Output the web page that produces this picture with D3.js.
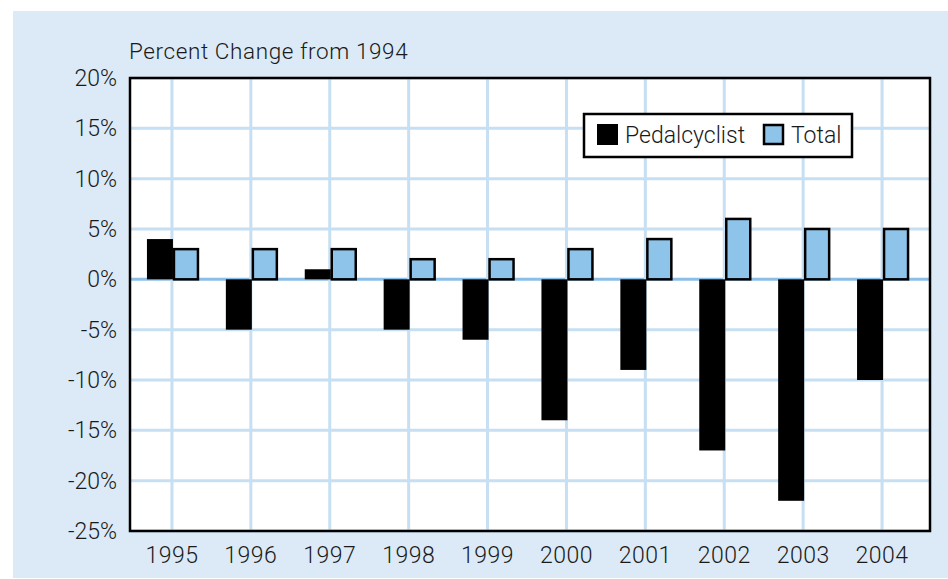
<!DOCTYPE html>
<html>
<head>
<meta charset="utf-8">
<script src="https://cdn.jsdelivr.net/npm/d3@7"></script>
<style>
  body { margin: 0; background: #fff; }
  text { font-family: Roboto, "Open Sans", sans-serif; font-weight: 300; fill: #1a1a1a; }
</style>
</head>
<body>
<div id="chart"></div>
<script>
// data
var years = ["1995", "1996", "1997", "1998", "1999", "2000", "2001", "2002", "2003", "2004"];
var pedalcyclist = [4, -5, 1, -5, -6, -14, -9, -17, -22, -10];
var total = [3, 3, 3, 2, 2, 3, 4, 6, 5, 5];
var yTicks = [20, 15, 10, 5, 0, -5, -10, -15, -20, -25];
var seriesNames = ["Pedalcyclist", "Total"];

var W = 948, H = 579;
var plot = {left: 130, top: 78, right: 930, bottom: 531};
var barWidth = 26;

var svg = d3.select("#chart").append("svg")
	.attr("width", W)
	.attr("height", H);

// light blue panel
svg.append("rect")
	.attr("x", 13).attr("y", 11)
	.attr("width", W - 13).attr("height", 567)
	.style("fill", "#dbeaf6");

svg.append("rect")
	.attr("x", plot.left).attr("y", plot.top)
	.attr("width", plot.right - plot.left).attr("height", plot.bottom - plot.top)
	.style("fill", "#fff");

var xScale = d3.scaleBand()
	.domain(years)
	.range([132.5, 921.5]);

var yScale = d3.scaleLinear()
	.domain([-25, 20])
	.range([plot.bottom, plot.top]);

// grid lines
svg.selectAll(".hgrid")
	.data(yTicks)
	.enter().append("line")
	.attr("class", "hgrid")
	.attr("x1", plot.left).attr("x2", plot.right)
	.attr("y1", function(d) { return yScale(d); })
	.attr("y2", function(d) { return yScale(d); })
	.style("stroke", function(d) { return d == 0 ? "#8cbfe8" : "#c6dff2"; })
	.style("stroke-width", 3);

svg.selectAll(".vgrid")
	.data(years)
	.enter().append("line")
	.attr("class", "vgrid")
	.attr("x1", function(d) { return xScale(d) + xScale.bandwidth() / 2; })
	.attr("x2", function(d) { return xScale(d) + xScale.bandwidth() / 2; })
	.attr("y1", plot.top).attr("y2", plot.bottom)
	.style("stroke", "#c6dff2")
	.style("stroke-width", 3);

// bars
svg.selectAll(".ped")
	.data(pedalcyclist)
	.enter().append("rect")
	.attr("class", "ped")
	.attr("x", function(d, i) { return xScale(years[i]) + xScale.bandwidth() / 2 - barWidth + 1; })
	.attr("width", barWidth)
	.attr("y", function(d) { return yScale(Math.max(0, d)); })
	.attr("height", function(d) { return Math.abs(yScale(d) - yScale(0)); })
	.style("fill", "#000");

svg.selectAll(".tot")
	.data(total)
	.enter().append("rect")
	.attr("class", "tot")
	.attr("x", function(d, i) { return xScale(years[i]) + xScale.bandwidth() / 2 + 2; })
	.attr("width", barWidth - 2)
	.attr("y", function(d) { return yScale(Math.max(0, d)); })
	.attr("height", function(d) { return Math.abs(yScale(d) - yScale(0)); })
	.style("fill", "#8ec3ea")
	.style("stroke", "#000")
	.style("stroke-width", 2.5);

// plot frame
svg.append("rect")
	.attr("x", plot.left).attr("y", plot.top)
	.attr("width", plot.right - plot.left).attr("height", plot.bottom - plot.top)
	.style("fill", "none")
	.style("stroke", "#000")
	.style("stroke-width", 2.5);

// axis labels
svg.selectAll(".ylab")
	.data(yTicks)
	.enter().append("text")
	.attr("class", "ylab")
	.attr("x", 117)
	.attr("y", function(d) { return yScale(d) + 8; })
	.style("text-anchor", "end")
	.style("font-size", "23px")
	.text(function(d) { return d + "%"; });

svg.selectAll(".xlab")
	.data(years)
	.enter().append("text")
	.attr("class", "xlab")
	.attr("x", function(d) { return xScale(d) + xScale.bandwidth() / 2; })
	.attr("y", 563)
	.style("text-anchor", "middle")
	.style("font-size", "23px")
	.style("letter-spacing", "0.5px")
	.text(function(d) { return d; });

svg.append("text")
	.attr("x", 129)
	.attr("y", 59)
	.style("font-size", "22.5px")
	.style("letter-spacing", "0.6px")
	.text("Percent Change from 1994");

// legend
var legend = svg.append("g");
legend.append("rect")
	.attr("x", 584).attr("y", 114)
	.attr("width", 268).attr("height", 43)
	.style("fill", "#fff")
	.style("stroke", "#000")
	.style("stroke-width", 2.5);

var legendX = [597, 763];
var legendFill = ["#000", "#8ec3ea"];
legend.selectAll(".lsw")
	.data(seriesNames)
	.enter().append("rect")
	.attr("class", "lsw")
	.attr("x", function(d, i) { return legendX[i] + (i == 1 ? 1 : 0); })
	.attr("y", function(d, i) { return 124 + (i == 1 ? 1 : 0); })
	.attr("width", function(d, i) { return i == 1 ? 19 : 21; })
	.attr("height", function(d, i) { return i == 1 ? 19 : 21; })
	.style("fill", function(d, i) { return legendFill[i]; })
	.style("stroke", function(d, i) { return i == 1 ? "#000" : "none"; })
	.style("stroke-width", 2.5);

legend.selectAll(".ltxt")
	.data(seriesNames)
	.enter().append("text")
	.attr("class", "ltxt")
	.attr("x", function(d, i) { return legendX[i] + 28; })
	.attr("y", 143)
	.style("font-size", "23px")
	.text(function(d) { return d; });
</script>
</body>
</html>
